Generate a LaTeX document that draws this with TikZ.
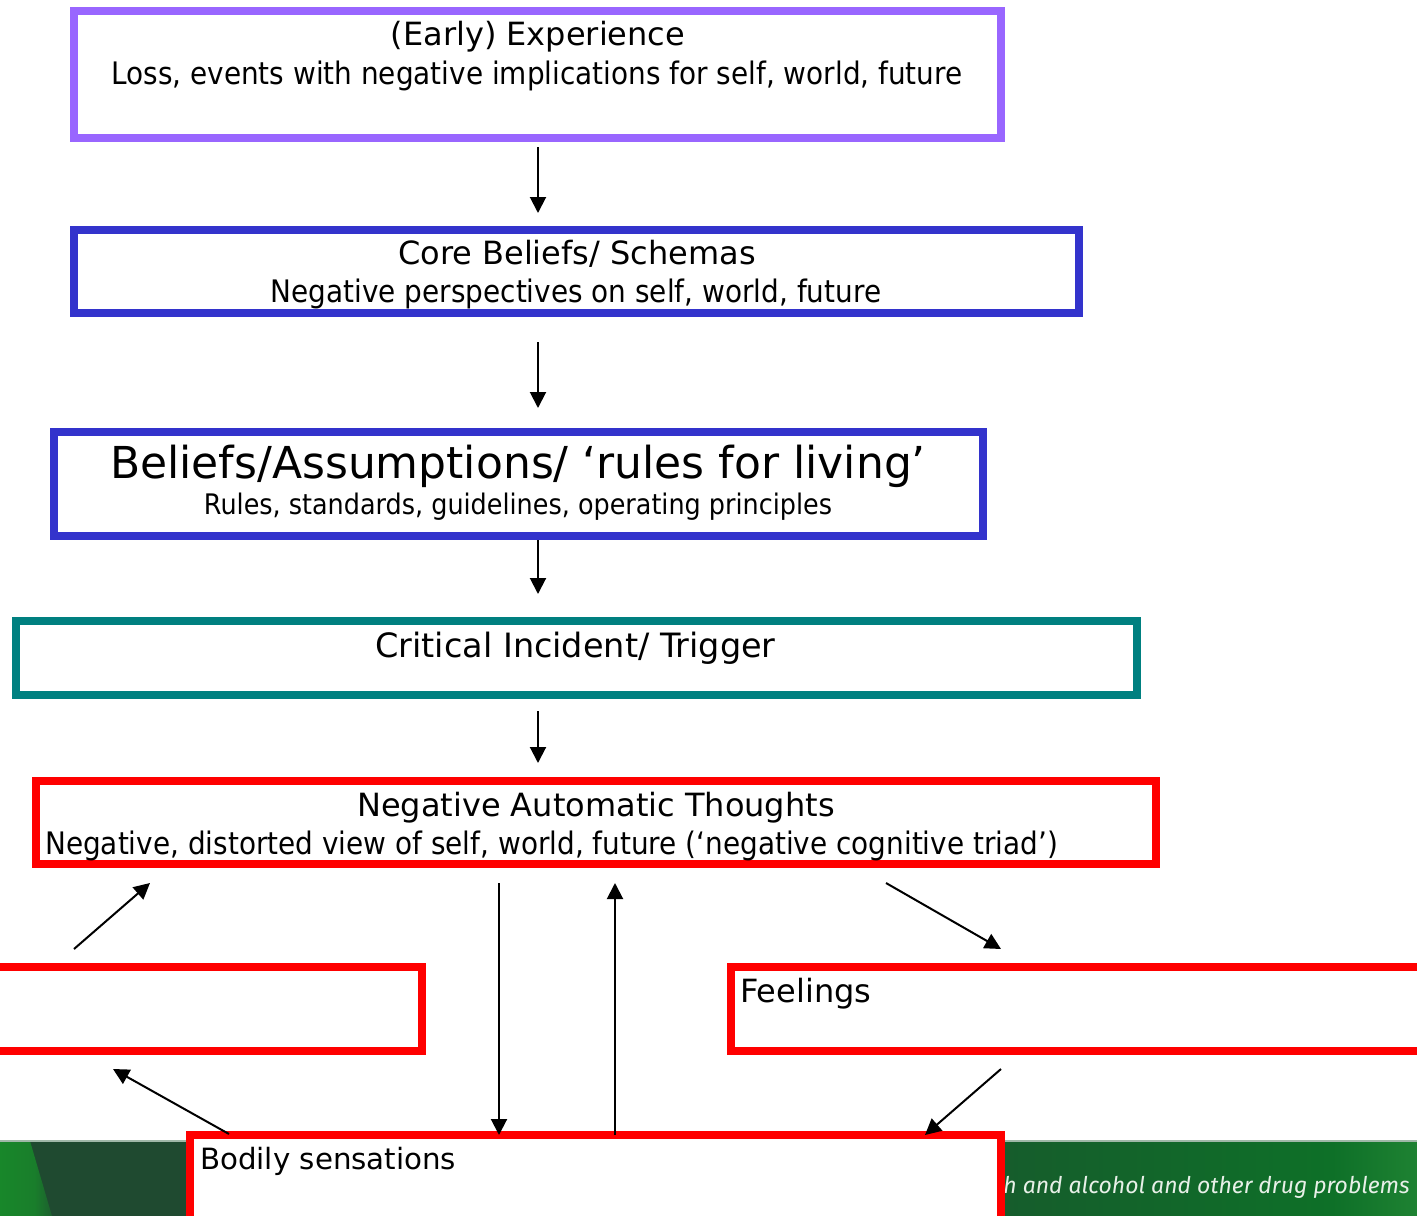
\documentclass[tikz,border=0pt]{standalone}
\usepackage{fontspec}
\setmainfont{DejaVu Sans}
\newfontfamily\subfont[FakeStretch=0.9]{DejaVu Sans}
\newfontfamily\bannerfont{Fira Sans}
\usetikzlibrary{arrows.meta}

\definecolor{expviolet}{RGB}{153,102,255}
\definecolor{beliefblue}{RGB}{51,51,204}
\definecolor{triggerteal}{RGB}{0,128,128}
\definecolor{natred}{RGB}{255,0,0}
\definecolor{bnA}{RGB}{24,135,42}
\definecolor{bnB}{RGB}{31,74,48}
\definecolor{bnC}{RGB}{22,92,44}
\definecolor{bnD}{RGB}{14,112,40}
\definecolor{bnE}{RGB}{30,130,50}
\definecolor{bnLine}{RGB}{160,184,168}
\definecolor{bnText}{RGB}{232,240,232}

% footer band: dark green on the left, greener towards the right
\pgfdeclarehorizontalshading{bannershade}{100bp}{color(0bp)=(bnB); color(25bp)=(bnB);
  color(45bp)=(bnB); color(60bp)=(bnC); color(72bp)=(bnD);
  color(75bp)=(bnE); color(100bp)=(bnE)}
% soft bright wedge at the left end of the band
\pgfdeclarehorizontalshading{wedgeshade}{100bp}{color(0bp)=(bnA); color(25bp)=(bnA);
  color(58bp)=(bnA!85!bnB); color(75bp)=(bnA!35!bnB); color(100bp)=(bnA!35!bnB)}

\tikzset{
  framebox/.style={draw=#1, line width=7.5pt, fill=white, inner sep=0pt},
  heading/.style={font=\fontsize{32}{38}\selectfont, inner sep=0pt, anchor=base},
  subtext/.style={font=\subfont\fontsize{31}{36}\selectfont, inner sep=0pt, anchor=base},
  bigtitle/.style={font=\fontsize{44}{50}\selectfont, inner sep=0pt, anchor=base},
  conn/.style={line width=2pt, -{Triangle[length=16pt,width=16pt]}}
}

\begin{document}
\begin{tikzpicture}[x=1pt, y=-1pt, line join=miter]
\useasboundingbox (0,0) rectangle (1417,1216);
\fill[white] (0,0) rectangle (1417,1216);
\clip (0,0) rectangle (1417,1216);

% footer band
\shade[shading=bannershade] (0,1141) rectangle (1417,1216);
\shade[shading=wedgeshade] (0,1141) -- (30,1141) -- (52,1216) -- (0,1216) -- cycle;
\draw[bnLine, line width=2pt] (0,1141) -- (1417,1141);
\node[font=\bannerfont\itshape\fontsize{23}{27}\selectfont, text=bnText,
      inner sep=0pt, anchor=base east] (bannerT) at (1410,1193)
      {h and alcohol and other drug problems};

% boxes
\node[framebox=expviolet, minimum width=927pt, minimum height=127pt] (exp) at (537.5,74.5) {};
\node[framebox=beliefblue, minimum width=1005pt, minimum height=83pt] (core) at (576.5,271.5) {};
\node[framebox=beliefblue, minimum width=929pt, minimum height=104pt] (rules) at (518.5,484) {};
\node[framebox=triggerteal, minimum width=1121pt, minimum height=74pt] (trig) at (576.5,658) {};
\node[framebox=natred, minimum width=1120pt, minimum height=83pt] (nat) at (596,822.5) {};
\node[framebox=natred, minimum width=472pt, minimum height=84pt] (behav) at (186,1009) {};
\node[framebox=natred, minimum width=739pt, minimum height=84pt] (feel) at (1100.5,1009) {};
\node[framebox=natred, minimum width=811pt, minimum height=125pt] (body) at (595.5,1197.5) {};

% texts
\node[heading] (expT) at (538,45) {(Early) Experience};
\node[subtext] (expS) at (537,84) {Loss, events with negative implications for self, world, future};
\node[heading] (coreT) at (577,264) {Core Beliefs/ Schemas};
\node[subtext] (coreS) at (576,302) {Negative perspectives on self, world, future};
\node[bigtitle] (rulesT) at (518,478) {Beliefs/Assumptions/ ‘rules for living’};
\node[subtext, font=\subfont\fontsize{28.3}{33}\selectfont] (rulesS) at (518,514) {Rules, standards, guidelines, operating principles};
\node[heading, font=\fontsize{33.5}{38}\selectfont] (trigT) at (575.5,657) {Critical Incident/ Trigger};
\node[heading] (natT) at (596,816) {Negative Automatic Thoughts};
\node[subtext, anchor=base west] (natS) at (45,854) {Negative, distorted view of self, world, future (‘negative cognitive triad’)};
\node[heading, anchor=base west] (feelT) at (740,1002) {Feelings};
\node[heading, anchor=base west, font=\fontsize{29.3}{35}\selectfont] (bodyT) at (200,1169) {Bodily sensations};

% arrow end points
\coordinate (a1s) at (538,147);  \coordinate (a1e) at (538,213);
\coordinate (a2s) at (538,342);  \coordinate (a2e) at (538,408);
\coordinate (a3s) at (538,540);  \coordinate (a3e) at (538,594);
\coordinate (a4s) at (538,711);  \coordinate (a4e) at (538,763);
\coordinate (bnS) at (74,949);   \coordinate (bnE) at (150,883);
\coordinate (ndS) at (499,883);  \coordinate (ndE) at (499,1135);
\coordinate (nuS) at (615,1135); \coordinate (nuE) at (615,883);
\coordinate (nfS) at (886,883);  \coordinate (nfE) at (1001,949);
\coordinate (bbS) at (229,1134); \coordinate (bbE) at (113,1069);
\coordinate (fbS) at (1001,1069); \coordinate (fbE) at (925,1135);

% connectors
\draw[conn] (a1s) -- (a1e);
\draw[conn] (a2s) -- (a2e);
\draw[conn] (a3s) -- (a3e);
\draw[conn] (a4s) -- (a4e);
\draw[conn] (bnS) -- (bnE);
\draw[conn] (ndS) -- (ndE);
\draw[conn] (nuS) -- (nuE);
\draw[conn] (nfS) -- (nfE);
\draw[conn] (bbS) -- (bbE);
\draw[conn] (fbS) -- (fbE);
\end{tikzpicture}
\end{document}
